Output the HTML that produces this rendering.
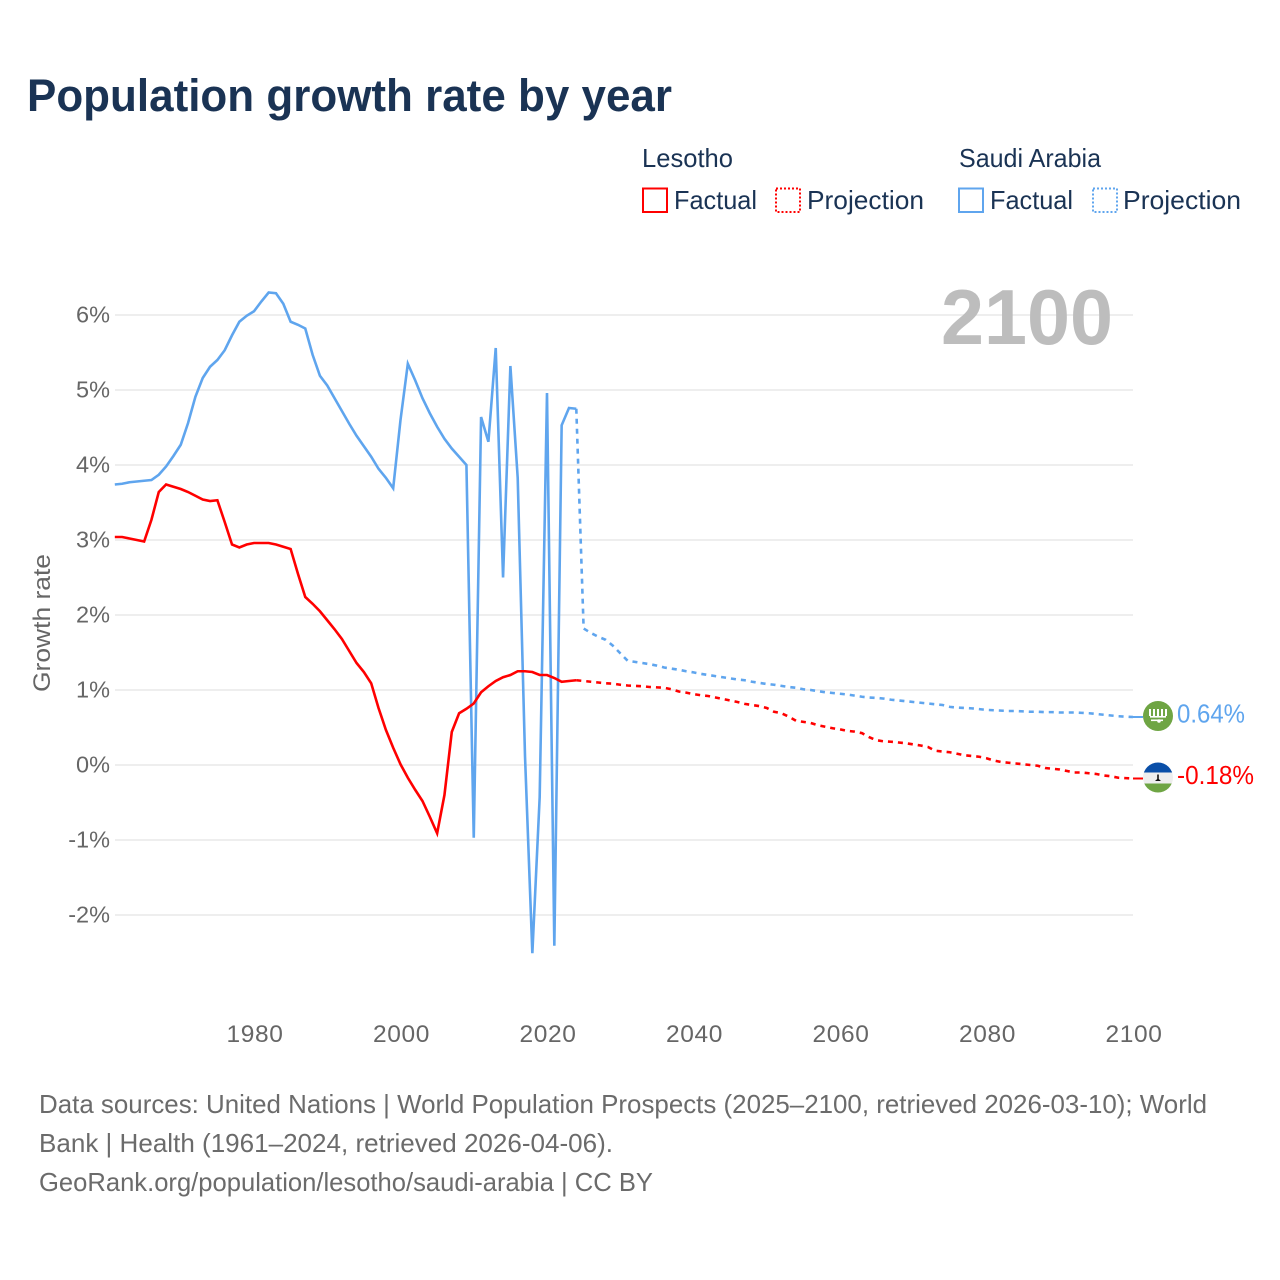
<!DOCTYPE html>
<html lang="en">
<head>
<meta charset="utf-8">
<title>Population growth rate by year</title>
<style>
html,body{margin:0;padding:0;background:#fff;}
svg{display:block;font-family:"Liberation Sans",sans-serif;}
</style>
</head>
<body>
<svg id="chart" width="1280" height="1280" viewBox="0 0 1280 1280" xmlns="http://www.w3.org/2000/svg">
  <rect x="0" y="0" width="1280" height="1280" fill="#ffffff"/>
  <text x="27" y="111" font-size="45" font-weight="700" fill="#1a3354" textLength="645" lengthAdjust="spacingAndGlyphs">Population growth rate by year</text>

  <g font-size="26" fill="#1a3354">
    <text x="642" y="167" textLength="91" lengthAdjust="spacingAndGlyphs">Lesotho</text>
    <text x="959" y="167" textLength="142" lengthAdjust="spacingAndGlyphs">Saudi Arabia</text>
    <rect x="643" y="188.5" width="24" height="23.5" fill="none" stroke="#ff0000" stroke-width="2"/>
    <text x="674" y="209" textLength="83" lengthAdjust="spacingAndGlyphs">Factual</text>
    <rect x="776" y="188.5" width="24" height="23.5" fill="none" stroke="#ff0000" stroke-width="2" stroke-dasharray="2 2"/>
    <text x="807" y="209" textLength="117" lengthAdjust="spacingAndGlyphs">Projection</text>
    <rect x="959" y="188.5" width="24" height="23.5" fill="none" stroke="#5fa5ee" stroke-width="2"/>
    <text x="990" y="209" textLength="83" lengthAdjust="spacingAndGlyphs">Factual</text>
    <rect x="1093" y="188.5" width="24" height="23.5" fill="none" stroke="#5fa5ee" stroke-width="2" stroke-dasharray="2 2"/>
    <text x="1123" y="209" textLength="118" lengthAdjust="spacingAndGlyphs">Projection</text>
  </g>

  <g id="grid"></g>
  <g id="yticks" font-size="23.5" fill="#666666" text-anchor="end"></g>
  <g id="xticks" font-size="24.5" fill="#666666" text-anchor="middle"></g>

  <text transform="translate(50,623) rotate(-90)" text-anchor="middle" font-size="24" fill="#666666" textLength="138" lengthAdjust="spacingAndGlyphs">Growth rate</text>
  <text x="941" y="344" font-size="78" font-weight="700" fill="#bdbdbd" textLength="172" lengthAdjust="spacingAndGlyphs">2100</text>

  <g id="series"></g>

  <g id="flag-saudi">
    <circle cx="0" cy="0" r="15" fill="#6fa544"/>
    <g fill="#ffffff">
      <rect x="-9" y="-7" width="2" height="7"/><rect x="-5" y="-7" width="2" height="7"/>
      <rect x="-1" y="-7" width="2" height="7"/><rect x="3" y="-7" width="2" height="7"/>
      <rect x="7" y="-7" width="2" height="7"/><rect x="-8" y="0" width="16" height="1.6"/>
      <rect x="-7" y="3.5" width="12" height="1.6"/><circle cx="1" cy="5" r="1.8"/>
    </g>
  </g>
  <g id="flag-lesotho">
    <clipPath id="lesotho-clip"><circle cx="0" cy="0" r="15"/></clipPath>
    <g clip-path="url(#lesotho-clip)">
      <rect x="-15" y="-15" width="30" height="10" fill="#0a4fa8"/>
      <rect x="-15" y="-5" width="30" height="11" fill="#eeeeee"/>
      <rect x="-15" y="6" width="30" height="9" fill="#6fa544"/>
      <path d="M-0.8 -3 L0.8 -3 L0.8 1.5 L3 3.5 L-3 3.5 L-0.8 1.5 Z" fill="#111111"/>
    </g>
  </g>
  <text id="label-saudi" x="1177" font-size="26" fill="#5fa5ee" textLength="68" lengthAdjust="spacingAndGlyphs"></text>
  <text id="label-lesotho" x="1177" font-size="26" fill="#ff0000" textLength="77" lengthAdjust="spacingAndGlyphs"></text>

  <g font-size="26" fill="#6b6b6b">
    <text x="39" y="1113" textLength="1168" lengthAdjust="spacingAndGlyphs">Data sources: United Nations | World Population Prospects (2025–2100, retrieved 2026-03-10); World</text>
    <text x="39" y="1152" textLength="574" lengthAdjust="spacingAndGlyphs">Bank | Health (1961–2024, retrieved 2026-04-06).</text>
    <text x="39" y="1191" textLength="614" lengthAdjust="spacingAndGlyphs">GeoRank.org/population/lesotho/saudi-arabia | CC BY</text>
  </g>
</svg>
<script>
const yTickValues = [6, 5, 4, 3, 2, 1, 0, -1, -2];
const xTickValues = [1980, 2000, 2020, 2040, 2060, 2080, 2100];
const factualStartYear = 1961;
const projectionStartYear = 2024;

const saudiFactual = [
  3.74, 3.75, 3.77, 3.78, 3.79, 3.80, 3.87, 3.98, 4.12, 4.27,
  4.56, 4.91, 5.16, 5.31, 5.40, 5.53, 5.73, 5.91, 5.99, 6.05,
  6.18, 6.30, 6.29, 6.15, 5.91, 5.87, 5.82, 5.47, 5.19, 5.06,
  4.89, 4.72, 4.55, 4.39, 4.25, 4.11, 3.95, 3.83, 3.69, 4.60,
  5.35, 5.13, 4.89, 4.69, 4.51, 4.35, 4.22, 4.11, 4.00, -0.97,
  4.64, 4.31, 5.56, 2.50, 5.32, 3.83, 0.11, -2.51, -0.43, 4.96,
  -2.41, 4.53, 4.76, 4.75
];
const saudiProjection = [
  4.75, 1.82, 1.76, 1.71, 1.67, 1.59, 1.49, 1.39, 1.375, 1.36,
  1.345, 1.325, 1.30, 1.285, 1.27, 1.25, 1.235, 1.215, 1.20, 1.185,
  1.17, 1.155, 1.14, 1.13, 1.11, 1.095, 1.08, 1.07, 1.055, 1.04,
  1.03, 1.01, 1.00, 0.985, 0.97, 0.96, 0.95, 0.94, 0.925, 0.91,
  0.90, 0.895, 0.885, 0.87, 0.86, 0.85, 0.84, 0.83, 0.82, 0.81,
  0.80, 0.775, 0.765, 0.76, 0.755, 0.745, 0.735, 0.73, 0.725, 0.72,
  0.72, 0.715, 0.71, 0.71, 0.705, 0.705, 0.70, 0.70, 0.70, 0.695,
  0.69, 0.68, 0.67, 0.66, 0.65, 0.645, 0.64
];
const lesothoFactual = [
  3.04, 3.04, 3.02, 3.00, 2.98, 3.27, 3.64, 3.74, 3.71, 3.68,
  3.64, 3.59, 3.54, 3.52, 3.53, 3.24, 2.94, 2.90, 2.94, 2.96,
  2.96, 2.96, 2.94, 2.91, 2.88, 2.55, 2.24, 2.15, 2.05, 1.93,
  1.81, 1.68, 1.52, 1.36, 1.24, 1.09, 0.76, 0.47, 0.23, 0.01,
  -0.17, -0.33, -0.48, -0.69, -0.91, -0.40, 0.44, 0.69, 0.75, 0.82,
  0.97, 1.05, 1.12, 1.17, 1.20, 1.25, 1.25, 1.24, 1.20, 1.20,
  1.16, 1.11, 1.12, 1.13
];
const lesothoProjection = [
  1.13, 1.12, 1.11, 1.10, 1.09, 1.085, 1.07, 1.06, 1.055, 1.05,
  1.04, 1.035, 1.03, 1.01, 0.98, 0.965, 0.945, 0.93, 0.92, 0.90,
  0.88, 0.86, 0.84, 0.815, 0.80, 0.785, 0.76, 0.71, 0.69, 0.645,
  0.59, 0.575, 0.56, 0.53, 0.51, 0.49, 0.475, 0.455, 0.445, 0.425,
  0.37, 0.33, 0.315, 0.31, 0.30, 0.29, 0.275, 0.26, 0.24, 0.19,
  0.18, 0.17, 0.15, 0.13, 0.12, 0.11, 0.09, 0.06, 0.04, 0.03,
  0.02, 0.01, 0.00, -0.01, -0.04, -0.05, -0.06, -0.08, -0.10, -0.10,
  -0.11, -0.12, -0.14, -0.15, -0.17, -0.175, -0.18
];

const SVG_NS = 'http://www.w3.org/2000/svg';
const RED = '#ff0000';
const BLUE = '#5fa5ee';

function xScale(year) {
  return 254 + (year - 1980) * 7.325;
}
function yScale(value) {
  return 765 - value * 75;
}
function make(tag, attrs, parent) {
  const el = document.createElementNS(SVG_NS, tag);
  Object.keys(attrs).forEach(function (k) { el.setAttribute(k, attrs[k]); });
  parent.appendChild(el);
  return el;
}
function seriesPath(values, startYear) {
  return values.map(function (v, i) {
    return (i ? 'L' : 'M') + xScale(startYear + i).toFixed(2) + ' ' + yScale(v).toFixed(2);
  }).join(' ');
}

const gridGroup = document.getElementById('grid');
const yTickGroup = document.getElementById('yticks');
yTickValues.forEach(function (v) {
  const line = make('line', { x1: 115, x2: 1133, y1: yScale(v), y2: yScale(v), stroke: '#eeeeee', 'stroke-width': 2 }, gridGroup);
  
  
  const label = make('text', { x: 110, y: yScale(v) + 7.5 }, yTickGroup);
  
  
  label.textContent = v + '%';
});

const xTickGroup = document.getElementById('xticks');
xTickValues.forEach(function (t) {
  const label = make('text', { x: xScale(t) + 1, y: 1042, 'letter-spacing': '0.6' }, xTickGroup);
  
  
  label.textContent = t;
});

const seriesGroup = document.getElementById('series');
function drawLine(values, startYear, color, dashed, name) {
  const attrs = { d: seriesPath(values, startYear), fill: 'none', stroke: color, 'stroke-width': 2.6, 'stroke-linejoin': 'miter' };
  if (dashed) attrs['stroke-dasharray'] = '5 5';
  const path = make('path', attrs, seriesGroup);
  
  
}
drawLine(saudiFactual, factualStartYear, BLUE, false, 'saudi-arabia-factual-line');
drawLine(lesothoFactual, factualStartYear, RED, false, 'lesotho-factual-line');
drawLine(saudiProjection, projectionStartYear, BLUE, true, 'saudi-arabia-projection-line');
drawLine(lesothoProjection, projectionStartYear, RED, true, 'lesotho-projection-line');

function placeEnd(values, color, flagId, labelId, connectorName) {
  const last = values[values.length - 1];
  const yPos = yScale(last);
  const connector = make('line', { x1: xScale(2100), x2: xScale(2100) + 10, y1: yPos, y2: yPos, stroke: color, 'stroke-width': 2 }, seriesGroup);
  
  
  document.getElementById(flagId).setAttribute('transform', 'translate(1158,' + (yPos - 1) + ')');
  const label = document.getElementById(labelId);
  label.setAttribute('y', yPos + 5.5);
  label.textContent = last.toFixed(2) + '%';
}
placeEnd(saudiProjection, BLUE, 'flag-saudi', 'label-saudi', 'saudi-arabia-connector');
placeEnd(lesothoProjection, RED, 'flag-lesotho', 'label-lesotho', 'lesotho-connector');
</script>
</body>
</html>
